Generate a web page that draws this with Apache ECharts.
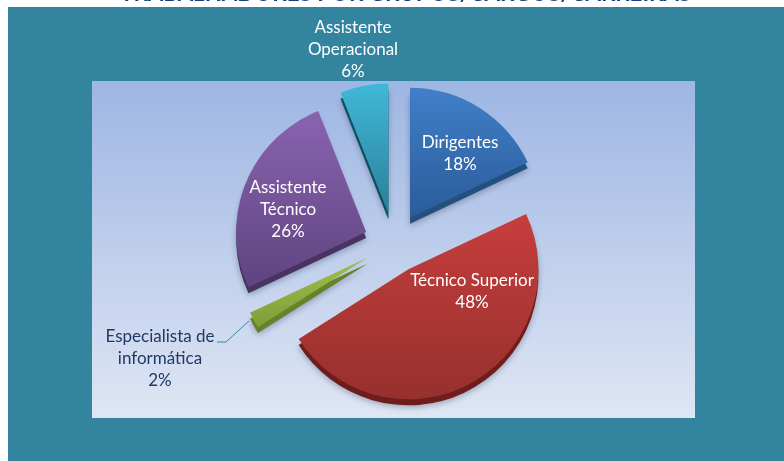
<!DOCTYPE html>
<html><head><meta charset="utf-8">
<style>html,body{margin:0;padding:0;background:#fff}#c{width:784px;height:461px}</style>
<script src="https://cdn.jsdelivr.net/npm/echarts@6/dist/echarts.min.js"></script>
</head><body><div id="c"></div>
<script>
const titleText = 'TRABALHADORES POR GRUPOS/CARGOS/CARREIRAS';
const categories = ['Dirigentes', 'Técnico Superior', 'Especialista de\ninformática', 'Assistente\nTécnico', 'Assistente\nOperacional'];
const values = [18, 48, 2, 26, 6];
const topColors = ['#417FC8', '#C63E3C', '#A0BF4A', '#8A63B0', '#3FB9D8'];
const lowColors = ['#2A5C9A', '#96302E', '#7F9F38', '#5F4480', '#2B7F98'];
const sideColors = ['#24507F', '#6F1D1C', '#66822C', '#483363', '#0D4F5E'];
const labelColors = ['#fff', '#fff', '#1F3864', '#fff', '#fff'];
const labelPos = [[460, 154], [472, 292], [160, 359], [288, 210], [353, 50]];

const chart = echarts.init(document.getElementById('c'), null, {renderer: 'canvas'});
const grad = (a, b) => new echarts.graphic.LinearGradient(0, 0, 0, 1, [{offset: 0, color: a}, {offset: 1, color: b}]);
const base = {
  type: 'pie', radius: [0, 130], startAngle: 90, clockwise: true, silent: true,
  selectedMode: 'multiple', selectedOffset: 30, animation: false, avoidLabelOverlap: false,
  emphasis: {disabled: true}
};
chart.setOption({
  backgroundColor: '#ffffff',
  animation: false,
  graphic: [
    {type: 'text', z: 0, left: 120, top: -17, style: {text: titleText, font: 'bold 22.3px Lato', fill: '#17407A'}},
    {type: 'rect', z: 0, shape: {x: 8, y: 7, width: 776, height: 454}, style: {fill: '#33849E'}},
    {type: 'rect', z: 0, shape: {x: 92, y: 81, width: 603, height: 337}, style: {fill: grad('#9DB6E3', '#DFE6F4')}},
    {type: 'polyline', z: 10, shape: {points: [[217, 342], [226, 342], [249, 321]]}, style: {stroke: '#2F8DA8', lineWidth: 1, fill: null}}
  ],
  series: [
    Object.assign({}, base, {
      center: [394, 249], z: 2,
      label: {show: false}, labelLine: {show: false},
      data: categories.map((name, i) => ({name, value: values[i], selected: true,
        itemStyle: {color: sideColors[i], shadowBlur: 6, shadowColor: 'rgba(30,40,70,.35)', shadowOffsetY: 2},
        select: {itemStyle: {color: sideColors[i]}}}))
    }),
    Object.assign({}, base, {
      center: [394, 243], z: 3,
      label: {show: false}, labelLine: {show: false},
      data: categories.map((name, i) => ({name, value: values[i], selected: true,
        itemStyle: {color: grad(topColors[i], lowColors[i])},
        select: {itemStyle: {color: grad(topColors[i], lowColors[i])}}}))
    }),
    Object.assign({}, base, {
      center: [394, 243], z: 4, selectedMode: false,
      itemStyle: {color: 'rgba(0,0,0,0)'},
      labelLayout: p => ({x: labelPos[p.dataIndex][0], y: labelPos[p.dataIndex][1], align: 'center', verticalAlign: 'middle'}),
      labelLine: {show: false},
      data: categories.map((name, i) => ({name, value: values[i],
        label: {show: true, position: 'inside', formatter: '{b}\n{c}%', color: labelColors[i],
                fontFamily: 'Lato', fontSize: 17, lineHeight: 22, align: 'center'}}))
    })
  ]
});
</script></body></html>
